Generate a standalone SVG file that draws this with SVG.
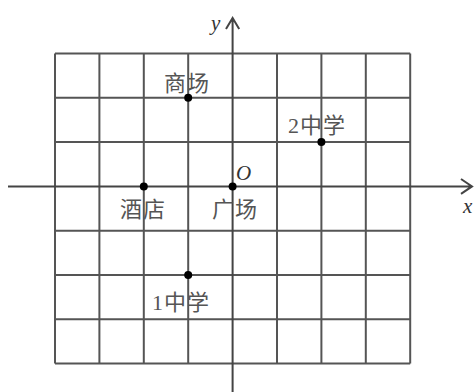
<svg xmlns="http://www.w3.org/2000/svg" width="476" height="392" viewBox="0 0 476 392">
<style>
.grid{stroke:#555;stroke-width:2;fill:none}
.axis{stroke:#444;stroke-width:2;fill:none}
.lbl{font-family:"Noto Sans CJK SC","Noto Sans",sans-serif;font-size:22px;letter-spacing:1px;fill:#555}
.num{font-family:"Liberation Serif",serif}
.it{font-family:"Liberation Serif",serif;font-style:italic;font-size:21px;fill:#333}
.dot{fill:#000}
</style>
<rect width="476" height="392" fill="#fff"/>
<g id="grid" class="grid">
<path d="M55 53.5V363.6M99.4 53.5V363.6M143.8 53.5V363.6M188.2 53.5V363.6M277 53.5V363.6M321.4 53.5V363.6M365.8 53.5V363.6M410.2 53.5V363.6"/>
<path d="M55 53.5H410.2M55 97.8H410.2M55 142.1H410.2M55 230.7H410.2M55 275H410.2M55 319.3H410.2M55 363.6H410.2"/>
</g>
<g id="connectors">
<path class="axis" d="M8 186.4H472M461 179L472 186.4L461 193.8"/>
<path class="axis" d="M232.6 392V18M226 29L232.6 18L239.2 29"/>
</g>
<g id="axis-labels">
<text class="it" x="211" y="30">y</text>
<text class="it" x="463" y="213">x</text>
<text class="it" x="236" y="180">O</text>
</g>
<g id="shangchang"><circle class="dot" cx="188.2" cy="97.8" r="4"/><text class="lbl" x="164" y="91">商场</text></g>
<g id="zhong2"><circle class="dot" cx="321.4" cy="142.1" r="4"/><text class="lbl" x="288" y="133"><tspan class="num">2</tspan>中学</text></g>
<g id="jiudian"><circle class="dot" cx="143.8" cy="186.4" r="4"/><text class="lbl" x="120" y="217">酒店</text></g>
<g id="guangchang"><circle class="dot" cx="232.6" cy="186.4" r="4"/><text class="lbl" x="212" y="217">广场</text></g>
<g id="zhong1"><circle class="dot" cx="188.2" cy="275" r="4"/><text class="lbl" x="152" y="310"><tspan class="num">1</tspan>中学</text></g>
</svg>
